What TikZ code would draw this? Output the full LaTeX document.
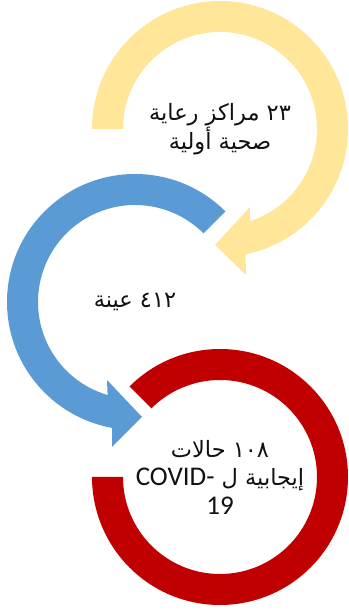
\documentclass[tikz,border=0pt]{standalone}
\usepackage{fontspec}
\newfontfamily\arabicfont[Script=Arabic]{DejaVu Sans}
\newfontfamily\latinfont{Carlito}
\TeXXeTstate=1
\definecolor{ylw}{HTML}{FFE699}
\definecolor{blu}{HTML}{5B9BD5}
\definecolor{rd}{HTML}{C00000}
\definecolor{txt}{HTML}{111111}
\newcommand{\lat}[1]{{\latinfont\fontsize{27}{28.5}\selectfont #1}}
\begin{document}
\begin{tikzpicture}[x=1pt,y=1pt,
  lbl/.style={align=center, text=txt, inner sep=0pt, font=\arabicfont\fontsize{22.5}{28.5}\selectfont}]
\useasboundingbox (0,0) rectangle (348,613);
\coordinate (Y) at (220,484);
\coordinate (B) at (135,311);
\coordinate (R) at (220,136);
% yellow circular arrow
\fill[ylw] ([shift={(180:128)}]Y) arc[start angle=180, end angle=-78.5, radius=128]
  -- (246,338) -- (215,368) -- (250,406)
  -- ([shift={(-72:97)}]Y) arc[start angle=-72, end angle=180, radius=97] -- cycle;
% blue circular arrow
\fill[blu] ([shift={(45:128)}]B) arc[start angle=45, end angle=259.7, radius=128]
  -- (112,166) -- (142,196) -- (107,233)
  -- ([shift={(253.6:97)}]B) arc[start angle=253.6, end angle=45, radius=97] -- cycle;
% red ring
\fill[rd] ([shift={(135:128)}]R) arc[start angle=135, end angle=-180, radius=128]
  -- ([shift={(180:97)}]R) arc[start angle=-180, end angle=135, radius=97] -- cycle;
% labels
\node[lbl] (ty) at (Y) {\beginR ٢٣ مراكز رعاية\endR\\\beginR صحية أولية\endR};
\node[lbl] (tb) at (B) {\beginR ٤١٢ عينة\endR};
\node[lbl] (tr) at (R) {\beginR ١٠٨ حالات\endR\\\beginR إيجابية ل \lat{-}\beginL\lat{COVID}\endL\endR\\\lat{19}};
\end{tikzpicture}
\end{document}
